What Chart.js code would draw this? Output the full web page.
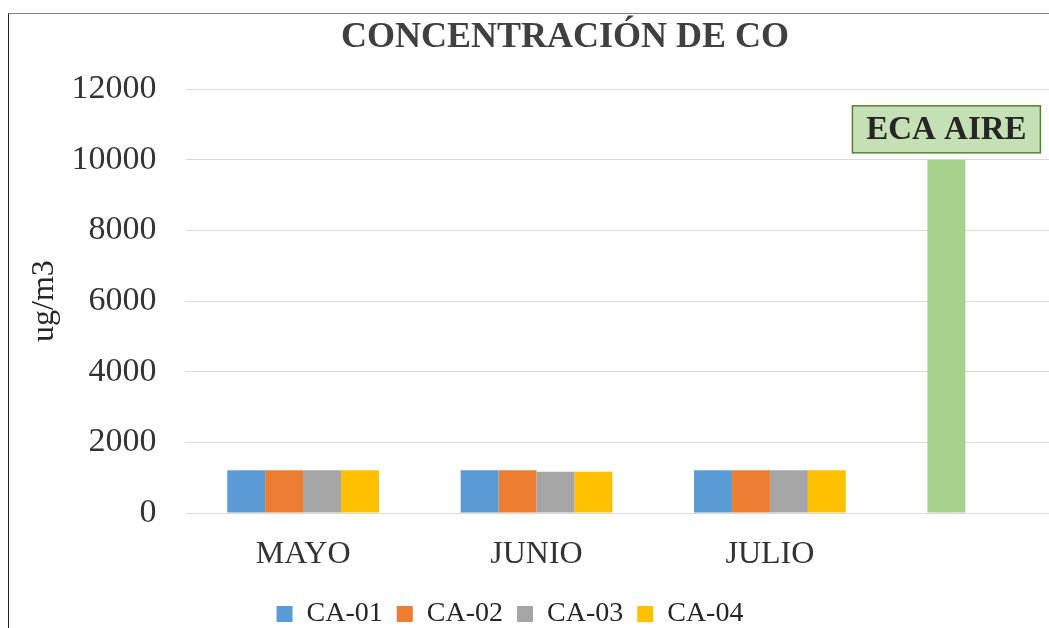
<!DOCTYPE html>
<html>
<head>
<meta charset="utf-8">
<script src="https://cdn.jsdelivr.net/npm/chart.js@4.4.1/dist/chart.umd.min.js"></script>
<style>
  html, body { margin: 0; padding: 0; background: #fff; overflow: hidden; width: 1049px; height: 628px; }
  #frame { position: absolute; left: 8px; top: 13px; width: 1100px; height: 700px;
           border-left: 1px solid #222; border-top: 1px solid #808080; }
  #wrap { position: absolute; left: 10px; top: 0; width: 1110px; height: 638px; }
</style>
</head>
<body>
<div id="frame"></div>
<div id="wrap"><canvas id="chartCanvas"></canvas></div>
<script>
// Chart data
const categories = ['MAYO', 'JUNIO', 'JULIO', ''];
const ca01 = [1210, 1210, 1210];
const ca02 = [1210, 1210, 1210];
const ca03 = [1210, 1165, 1210];
const ca04 = [1210, 1165, 1210];
const ecaAire = 10000;          // limit value, shown as the 4th bar
const ecaLabel = 'ECA AIRE';
const yTicks = [0, 2000, 4000, 6000, 8000, 10000, 12000];

const SERIF = "'Liberation Serif', 'Times New Roman', serif";
const ecaColor = '#a9d18e';

// Boxed "ECA AIRE" label above the limit bar
const ecaBoxPlugin = {
  id: 'ecaBox',
  afterDatasetsDraw(chart) {
    const el = chart.getDatasetMeta(0).data[3];
    if (!el) return;
    const ctx = chart.ctx;
    const w = 188, h = 47;
    const x = el.x - w / 2, y = el.y - 7 - h;
    ctx.save();
    ctx.fillStyle = '#c5e0b4';
    ctx.strokeStyle = '#548235';
    ctx.lineWidth = 1.5;
    ctx.fillRect(x, y, w, h);
    ctx.strokeRect(x, y, w, h);
    ctx.fillStyle = '#262626';
    ctx.font = 'bold 33px ' + SERIF;
    ctx.textAlign = 'center';
    ctx.textBaseline = 'middle';
    ctx.fillText(ecaLabel, el.x, y + h / 2 + 1);
    ctx.restore();
  }
};

// legend sits left of the title centre in the original
const legendShift = {
  id: 'legendShift',
  afterLayout(chart) {
    const l = chart.legend;
    const dx = 500 - (l.left + l.right) / 2;
    l.left += dx;
    l.right += dx;
  }
};

const withEca = (arr, v) => arr.concat([v]);

const myChart = new Chart(document.getElementById('chartCanvas').getContext('2d'), {
  type: 'bar',
  data: {
    labels: categories,
    datasets: [
      { label: 'CA-01', data: withEca(ca01, ecaAire),
        backgroundColor: (c) => c.dataIndex === 3 ? ecaColor : '#5b9bd5' },
      { label: 'CA-02', data: withEca(ca02, null), backgroundColor: '#ed7d31' },
      { label: 'CA-03', data: withEca(ca03, null), backgroundColor: '#a5a5a5' },
      { label: 'CA-04', data: withEca(ca04, null), backgroundColor: '#ffc000' }
    ]
  },
  options: {
    responsive: true,
    maintainAspectRatio: false,
    animation: false,
    categoryPercentage: 0.65,
    barPercentage: 1.0,
    layout: { padding: { left: 0, right: 0, top: 0, bottom: 0 } },
    plugins: {
      title: {
        display: true,
        text: 'CONCENTRACIÓN DE CO',
        color: '#404040',
        font: { family: SERIF, size: 36, weight: 'bold', lineHeight: 1.2 },
        padding: { top: 16, bottom: 30 }
      },
      legend: {
        position: 'bottom',
        labels: {
          color: '#262626',
          font: { family: SERIF, size: 28 },
          boxWidth: 16,
          boxHeight: 16,
          padding: 14
        }
      },
      tooltip: { enabled: false }
    },
    scales: {
      x: {
        afterFit: (axis) => { axis.height = 73; },
        grid: { display: false, drawTicks: false },
        border: { color: '#d9d9d9' },
        ticks: {
          color: '#333',
          padding: 28,
          font: { family: SERIF, size: 32, lineHeight: 0.84 }
        }
      },
      y: {
        min: 0,
        max: 12000,
        afterBuildTicks: (axis) => { axis.ticks = yTicks.map(v => ({ value: v })); },
        afterFit: (axis) => { axis.width -= 31; },
        grid: { color: '#d9d9d9', drawTicks: false },
        border: { display: false },
        ticks: {
          color: '#333',
          padding: 30,
          font: { family: SERIF, size: 34 },
          callback: (v) => String(v)
        },
        title: {
          display: true,
          text: 'ug/m3',
          color: '#262626',
          font: { family: SERIF, size: 32, lineHeight: 1.2 },
          padding: { top: 15, bottom: 9 }
        }
      }
    }
  },
  plugins: [ecaBoxPlugin, legendShift]
});
</script>
</body>
</html>
